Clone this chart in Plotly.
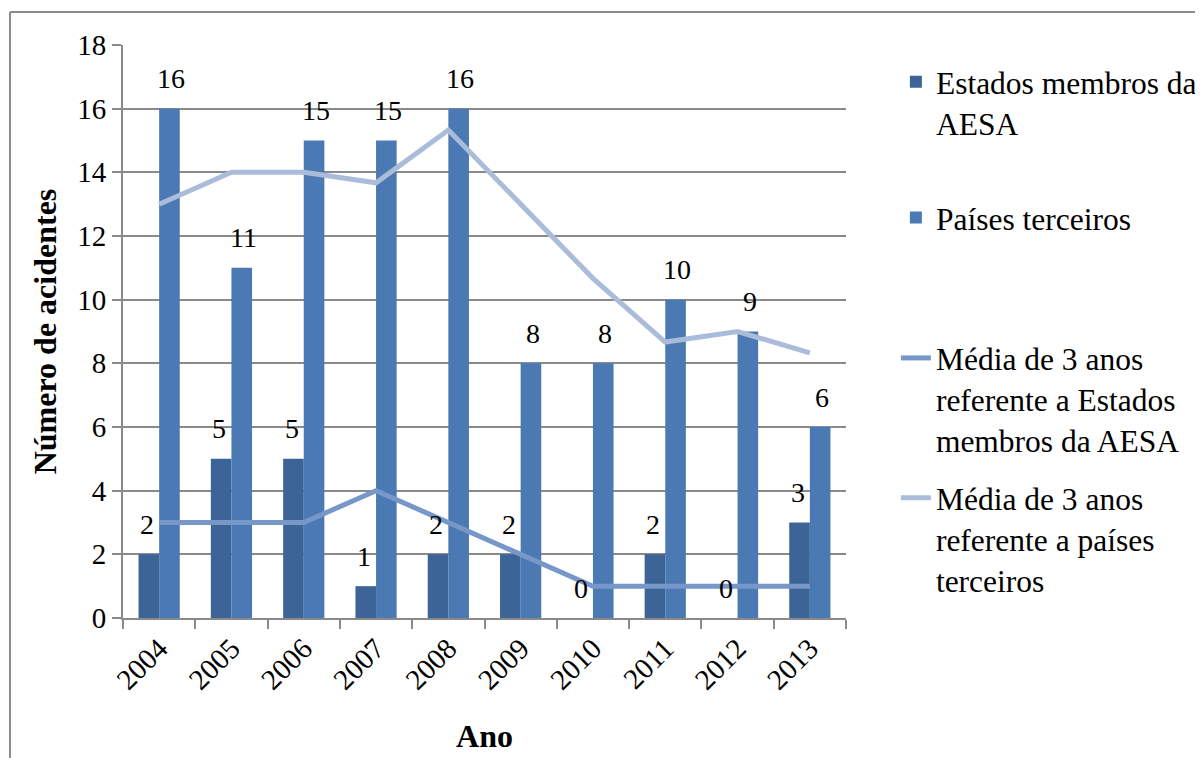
import plotly.graph_objects as go

years = ["2004", "2005", "2006", "2007", "2008", "2009", "2010", "2011", "2012", "2013"]
easa = [2, 5, 5, 1, 2, 2, 0, 2, 0, 3]
third = [16, 11, 15, 15, 16, 8, 8, 10, 9, 6]
easa_avg = [3, 3, 3, 4, 3, 2, 1, 1, 1, 1]
third_avg = [13, 14, 14, 13.67, 15.33, 13, 10.67, 8.67, 9, 8.33]

names = ["Estados membros da<br>AESA", "Países terceiros",
         "Média de 3 anos<br>referente a Estados<br>membros da AESA",
         "Média de 3 anos<br>referente a países<br>terceiros"]

FONT = "Liberation Serif"
FS_TICK = 29
FS_LAB = 28
FS_TITLE = 32
FS_LEG = 31.5
C_DARK = "#3C6496"
C_LIGHT = "#4A79B3"
C_AVG1 = "#7797C9"
C_AVG2 = "#AABCDA"
GRID = "#8A8A8A"

fig = go.Figure()
fig.add_trace(go.Bar(x=years, y=easa, name=names[0], marker_color=C_DARK,
                     marker_line_width=0, legend="legend"))
fig.add_trace(go.Bar(x=years, y=third, name=names[1], marker_color=C_LIGHT,
                     marker_line_width=0, legend="legend2"))
fig.add_trace(go.Scatter(x=years, y=easa_avg, name=names[2], mode="lines",
                         line=dict(color=C_AVG1, width=5), legend="legend3"))
fig.add_trace(go.Scatter(x=years, y=third_avg, name=names[3], mode="lines",
                         line=dict(color=C_AVG2, width=5), legend="legend4"))

annotations = []
for i, v in enumerate(easa):
    annotations.append(dict(x=i, y=v, xref="x", yref="y", text=str(v), showarrow=False,
                            xshift=-12, yshift=30, yanchor="middle",
                            font=dict(family=FONT, size=FS_LAB, color="black")))
for i, v in enumerate(third):
    annotations.append(dict(x=i, y=v, xref="x", yref="y", text=str(v), showarrow=False,
                            xshift=12, yshift=30, yanchor="middle",
                            font=dict(family=FONT, size=FS_LAB, color="black")))

def leg(y):
    return dict(x=1.069, y=y, xanchor="left", yanchor="top", valign="top",
                bgcolor="rgba(0,0,0,0)", font=dict(family=FONT, size=FS_LEG, color="black"))

fig.update_layout(
    width=1203, height=758,
    margin=dict(l=115, r=365, t=37, b=148, autoexpand=False),
    paper_bgcolor="white", plot_bgcolor="white",
    barmode="group", bargap=0.43, bargroupgap=0,
    showlegend=True,
    font=dict(family=FONT, size=FS_TICK, color="black"),
    legend=leg(0.983), legend2=leg(0.746), legend3=leg(0.501), legend4=leg(0.257),
    annotations=annotations,
    xaxis=dict(type="category", range=[-0.5, 9.5], autorange=False, showgrid=False,
               showline=True, linecolor=GRID, linewidth=2,
               ticks="outside", ticklen=9, tickcolor=GRID, tickwidth=2,
               tickson="boundaries", tickangle=-45,
               tickfont=dict(family=FONT, size=FS_TICK, color="black"),
               title=dict(text="<b>Ano</b>", font=dict(family=FONT, size=FS_TITLE, color="black"), standoff=30)),
    yaxis=dict(range=[0, 18], dtick=2, showgrid=True, gridcolor=GRID, gridwidth=2,
               showline=True, linecolor=GRID, linewidth=2, zeroline=False,
               ticks="outside", ticklen=9, tickcolor=GRID, tickwidth=2,
               tickfont=dict(family=FONT, size=FS_TICK, color="black"),
               title=dict(text="<b>Número de acidentes</b>", font=dict(family=FONT, size=FS_TITLE, color="black"), standoff=11)),
    shapes=[
        dict(type="line", xref="paper", yref="paper", x0=-0.1563, x1=-0.1563, y0=1.0576, y1=-0.35,
             line=dict(color="#8C8C8C", width=2)),
        dict(type="line", xref="paper", yref="paper", x0=-0.1563, x1=1.6, y0=1.0576, y1=1.0576,
             line=dict(color="#8C8C8C", width=2)),
    ],
)

fig.write_html("out.html")
